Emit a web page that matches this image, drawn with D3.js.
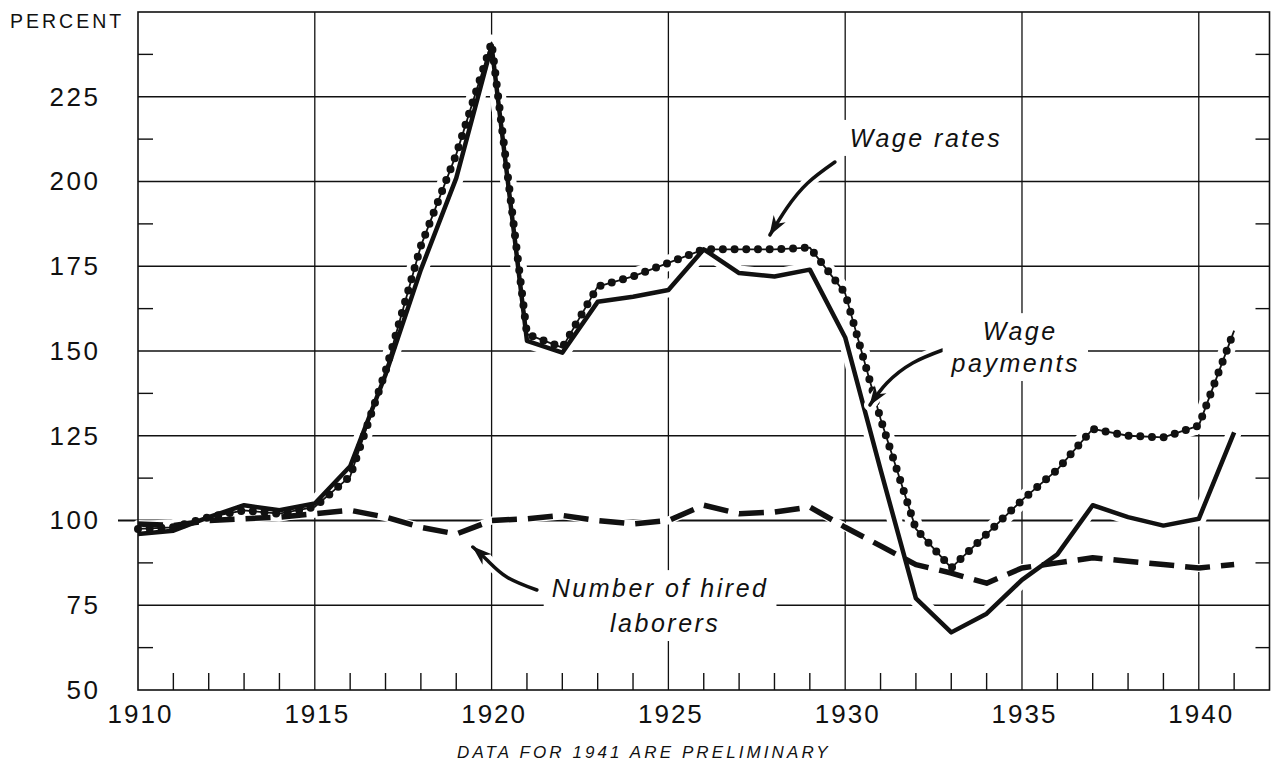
<!DOCTYPE html>
<html>
<head>
<meta charset="utf-8">
<script src="https://cdn.jsdelivr.net/npm/d3@7"></script>
<style>
  body { margin: 0; background: #fff; }
  svg text { font-family: "Liberation Sans", Arial, sans-serif; fill: #111; }
  .ann { font-style: italic; font-size: 25px; letter-spacing: 2.5px; }
</style>
</head>
<body>
<div id="chart"></div>
<script>
// Farm wage data, index 1910-14 = 100
const years = [1910, 1911, 1912, 1913, 1914, 1915, 1916, 1917, 1918, 1919,
               1920, 1921, 1922, 1923, 1924, 1925, 1926, 1927, 1928, 1929,
               1930, 1931, 1932, 1933, 1934, 1935, 1936, 1937, 1938, 1939,
               1940, 1941];
const wageRates = [97.5, 98, 101, 103, 102, 104, 113, 144, 181, 208,
                   241, 155, 151, 169, 172, 176, 180, 180, 180, 180.5,
                   167, 130, 97.5, 86, 96, 106, 115, 127, 125, 124.5,
                   128, 156];
const wagePayments = [96, 97, 101, 104.5, 103, 105, 116, 143, 174, 201,
                      240, 153, 149.5, 164.5, 166, 168, 180, 173, 172, 174,
                      154, 115, 77, 67, 72.5, 82.5, 90, 104.5, 101, 98.5,
                      100.5, 126];
const hiredLaborers = [99, 98.5, 100, 100.5, 101, 102, 103, 101, 98, 96,
                       100, 100.5, 101.5, 100, 99, 100, 104.5, 102, 102.5, 104,
                       98, 92.5, 87, 84.5, 81.5, 86, 87.5, 89, 88, 87,
                       86, 87];

const yLabels = [50, 75, 100, 125, 150, 175, 200, 225];
const yGrid = [75, 125, 150, 175, 200, 225];
const yMinor = [62.5, 87.5, 112.5, 137.5, 162.5, 187.5, 212.5, 237.5];
const xLabels = [1910, 1915, 1920, 1925, 1930, 1935, 1940];
const xGrid = [1915, 1920, 1925, 1930, 1935, 1940];

// annotation text, in data units: [year, value, text]
const notes = [
  [1930.13, 210.2, "Wage rates"],
  [1933.89, 153.2, "Wage"],
  [1933.01, 143.8, "payments"],
  [1921.70, 77.4, "Number of hired"],
  [1923.35, 67.1, "laborers"]
];
// arrows, in data units
const arrows = [
  [[1929.71, 205.75], [1928.94, 199.56], [1928.35, 192.18], [1927.87, 184.22]],
  [[1932.76, 150.29], [1931.91, 146.46], [1931.18, 140.56], [1930.70, 134.07]],
  [[1921.28, 79.50], [1920.43, 83.33], [1919.87, 88.35], [1919.47, 92.18]]
];

const width = 1271, height = 764;
const ink = "#111";

const x = d3.scaleLinear().domain([1910, 1942]).range([138, 1269.5]);
const y = d3.scaleLinear().domain([50, 250]).range([690, 12]);

const svg = d3.select("#chart").append("svg")
  .attr("width", width).attr("height", height)
  .attr("viewBox", [0, 0, width, height]);

// grid
const grid = svg.append("g").attr("stroke", ink).attr("stroke-width", 1.3);
grid.selectAll(".hg").data(yGrid).join("line")
  .attr("x1", x(1910)).attr("x2", x(1942))
  .attr("y1", d => y(d)).attr("y2", d => y(d));
grid.selectAll(".vg").data(xGrid).join("line")
  .attr("x1", d => x(d)).attr("x2", d => x(d))
  .attr("y1", y(250)).attr("y2", y(50));
// base line at 100
svg.append("line")
  .attr("x1", x(1910) - 20).attr("x2", x(1942))
  .attr("y1", y(100)).attr("y2", y(100))
  .attr("stroke", ink).attr("stroke-width", 2.2);

const line = d3.line().x((d, i) => x(years[i])).y(d => y(d));

// white halos so the grid breaks around the curves
const halo = svg.append("g").attr("fill", "none").attr("stroke", "#fff")
  .attr("stroke-linejoin", "round").attr("stroke-linecap", "round");
halo.append("path").attr("d", line(wageRates)).attr("stroke-width", 16);
halo.append("path").attr("d", line(wagePayments)).attr("stroke-width", 15);
halo.append("path").attr("d", line(hiredLaborers)).attr("stroke-width", 8);

// frame
svg.append("rect")
  .attr("x", x(1910)).attr("y", y(250))
  .attr("width", x(1942) - x(1910)).attr("height", y(50) - y(250))
  .attr("fill", "none").attr("stroke", ink).attr("stroke-width", 1.6);

// minor ticks
const ticks = svg.append("g").attr("stroke", ink).attr("stroke-width", 1.4);
ticks.selectAll(".ml").data(yMinor).join("line")
  .attr("x1", x(1910)).attr("x2", x(1910) + 15)
  .attr("y1", d => y(d)).attr("y2", d => y(d));
ticks.selectAll(".mr").data(yMinor).join("line")
  .attr("x1", x(1942) - 14).attr("x2", x(1942))
  .attr("y1", d => y(d)).attr("y2", d => y(d));
ticks.selectAll(".xt").data(years.filter(d => d % 5 !== 0)).join("line")
  .attr("x1", d => x(d)).attr("x2", d => x(d))
  .attr("y1", y(50)).attr("y2", y(50) - 17);

// axis labels
svg.append("g")
  .attr("transform", `translate(${x(1910) - 40},0)`)
  .call(d3.axisLeft(y).tickValues(yLabels).tickSize(0).tickPadding(0))
  .call(g => g.select(".domain").remove())
  .call(g => g.selectAll("text")
    .attr("font-family", null).attr("font-size", 26)
    .style("letter-spacing", "2.5px").attr("dx", 2.5).attr("fill", ink));

svg.append("g")
  .attr("transform", `translate(0,${y(50) + 15})`)
  .call(d3.axisBottom(x).tickValues(xLabels).tickSize(0).tickPadding(0)
    .tickFormat(d3.format("d")))
  .call(g => g.select(".domain").remove())
  .call(g => g.selectAll("text")
    .attr("font-family", null).attr("font-size", 26)
    .style("letter-spacing", "2px").attr("dx", 2).attr("fill", ink));

svg.append("text")
  .attr("x", 10).attr("y", 28)
  .attr("font-size", 19.5).style("letter-spacing", "3px")
  .text("PERCENT");

svg.append("text")
  .attr("x", 457).attr("y", 758)
  .attr("font-size", 17).attr("font-style", "italic")
  .style("letter-spacing", "3.1px")
  .text("DATA FOR 1941 ARE PRELIMINARY");

// series
const curves = svg.append("g").attr("fill", "none").attr("stroke", ink)
  .attr("stroke-linejoin", "round");
curves.append("path").attr("d", line(hiredLaborers))
  .attr("stroke-width", 5.5).attr("stroke-dasharray", "25 11");
curves.append("path").attr("d", line(wagePayments))
  .attr("stroke-width", 4.5);
curves.append("path").attr("d", line(wageRates))
  .attr("stroke-width", 1.8);
curves.append("path").attr("d", line(wageRates))
  .attr("stroke-width", 8).attr("stroke-linecap", "round")
  .attr("stroke-dasharray", "0 11.7");

// arrows
svg.append("defs").append("marker")
  .attr("id", "head").attr("markerUnits", "userSpaceOnUse")
  .attr("viewBox", "-20 -8 22 16").attr("refX", 0).attr("refY", 0)
  .attr("markerWidth", 22).attr("markerHeight", 16).attr("orient", "auto")
  .append("path").attr("d", "M1,0 L-19,-7 L-13,0 L-19,7 Z").attr("fill", ink);

const arrowLine = d3.line().x(d => x(d[0])).y(d => y(d[1])).curve(d3.curveNatural);
const arr = svg.append("g").attr("fill", "none").attr("stroke-linecap", "round");
arr.selectAll(".ah").data(arrows).join("path")
  .attr("d", arrowLine).attr("stroke", "#fff").attr("stroke-width", 12);
arr.selectAll(".a").data(arrows).join("path")
  .attr("d", arrowLine).attr("stroke", ink).attr("stroke-width", 3.5)
  .attr("marker-end", "url(#head)");

// annotation labels with white backing
const ann = svg.append("g");
notes.forEach(([yr, v, t]) => {
  const g = ann.append("g");
  const txt = g.append("text").attr("class", "ann")
    .attr("x", x(yr)).attr("y", y(v)).text(t);
  const b = txt.node().getBBox();
  g.insert("rect", "text")
    .attr("x", b.x - 8).attr("y", b.y - 4)
    .attr("width", b.width + 16).attr("height", b.height + 8)
    .attr("fill", "#fff");
});
</script>
</body>
</html>
